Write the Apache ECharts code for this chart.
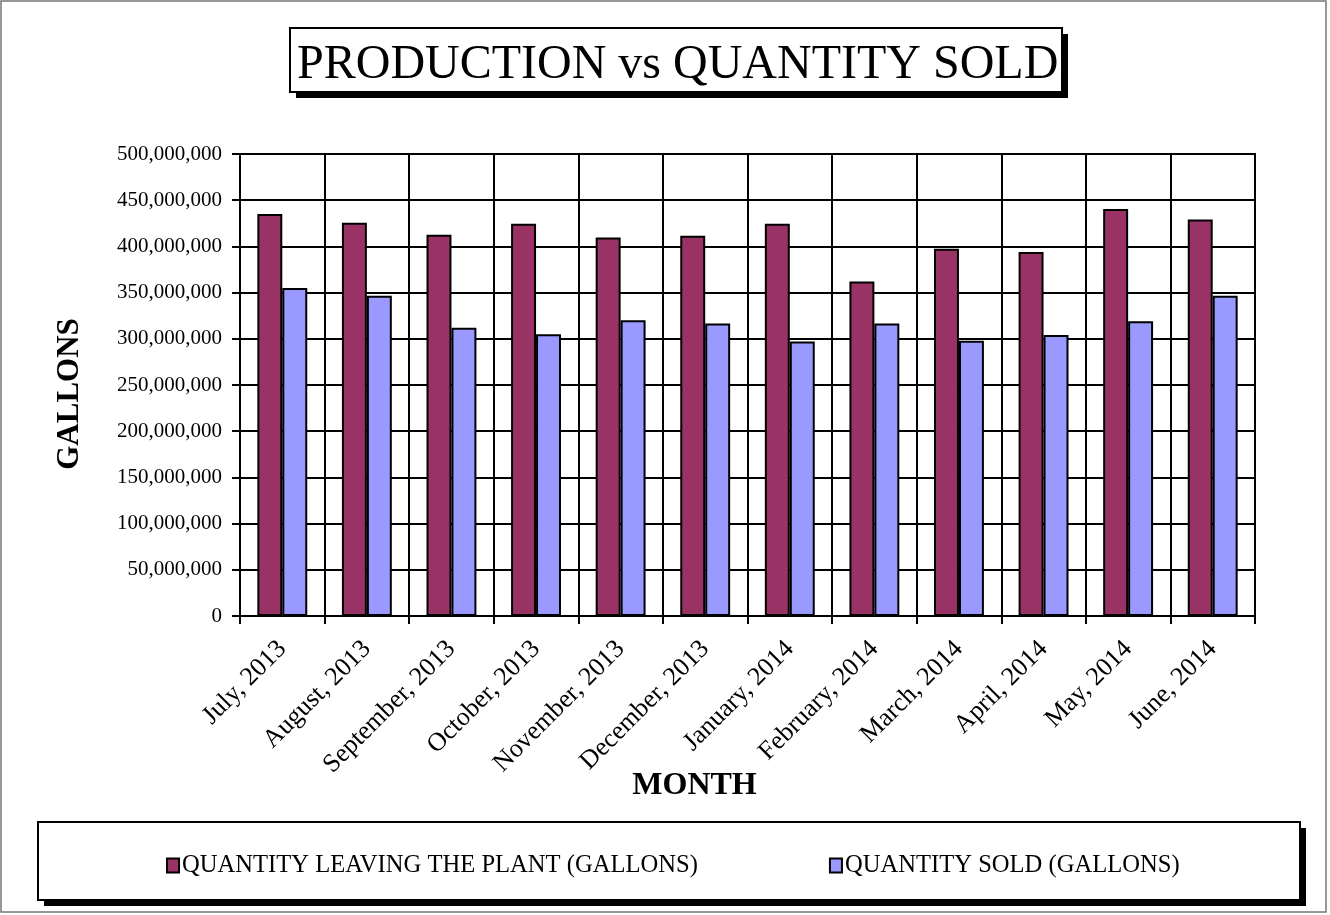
<!DOCTYPE html>
<html>
<head>
<meta charset="utf-8">
<script src="https://cdn.jsdelivr.net/npm/echarts@6/dist/echarts.min.js"></script>
<style>html,body{margin:0;padding:0;background:#fff;}#c{width:1330px;height:915px;}</style>
</head>
<body>
<div id="c"></div>
<script>
const categories = ['July, 2013','August, 2013','September, 2013','October, 2013','November, 2013','December, 2013','January, 2014','February, 2014','March, 2014','April, 2014','May, 2014','June, 2014'];
const leavingPlant = [435000000, 425500000, 412500000, 424500000, 409500000, 411500000, 424500000, 362000000, 397500000, 394000000, 440500000, 429000000];
const quantitySold = [355000000, 346500000, 312000000, 305000000, 320000000, 316500000, 297000000, 316500000, 298000000, 304000000, 319000000, 346500000];
const seriesNames = ['QUANTITY LEAVING THE PLANT (GALLONS)', 'QUANTITY SOLD (GALLONS)'];
const titleText = 'PRODUCTION vs QUANTITY SOLD';

const FONT = '"Liberation Serif", "Times New Roman", serif';
const chart = echarts.init(document.getElementById('c'), null, {renderer: 'canvas'});
function fmt(v){ return String(v).replace(/\B(?=(\d{3})+(?!\d))/g, ','); }

chart.setOption({
  backgroundColor: '#fff',
  animation: false,
  title: {
    text: titleText,
    left: 297, top: 41, padding: 0,
    textStyle: {fontFamily: FONT, fontSize: 48, fontWeight: 'normal', color: '#000'}
  },
  graphic: [
    {type: 'rect', z: 0, shape: {x: 1, y: 1, width: 1325, height: 911}, style: {fill: 'none', stroke: '#777', lineWidth: 1.5}},
    {type: 'rect', z: 1, shape: {x: 296, y: 34, width: 772, height: 64}, style: {fill: '#000'}},
    {type: 'rect', z: 1, shape: {x: 290, y: 28, width: 772, height: 64}, style: {fill: '#fff', stroke: '#000', lineWidth: 2}},
    {type: 'rect', z: 1, shape: {x: 44, y: 828, width: 1262, height: 78}, style: {fill: '#000'}},
    {type: 'rect', z: 1, shape: {x: 38, y: 822, width: 1262, height: 78}, style: {fill: '#fff', stroke: '#000', lineWidth: 2}}
  ],
  legend: {
    data: seriesNames,
    left: 161, top: 848,
    itemGap: 131, itemWidth: 12, itemHeight: 14,
    icon: 'rect',
    textStyle: {fontFamily: FONT, fontSize: 24.6, color: '#000', padding: [0,0,0,-2]}
  },
  grid: {
    left: 240, top: 154, width: 1015, height: 462,
    show: true, borderColor: '#000', borderWidth: 2, backgroundColor: '#fff'
  },
  xAxis: {
    type: 'category',
    data: categories,
    name: 'MONTH', nameLocation: 'middle', nameGap: 154, nameMoveOverlap: false,
    nameTextStyle: {fontFamily: FONT, fontSize: 32, fontWeight: 'bold', color: '#000', padding: [0, 106, 0, 0]},
    axisLine: {lineStyle: {color: '#000', width: 2}},
    axisTick: {show: true, length: 8, lineStyle: {color: '#000', width: 2}, interval: 0},
    splitLine: {show: true, interval: 0, lineStyle: {color: '#000', width: 2}},
    axisLabel: {interval: 0, rotate: 45, margin: 29, fontFamily: FONT, fontSize: 26, color: '#000'}
  },
  yAxis: {
    type: 'value', min: 0, max: 500000000, interval: 50000000,
    name: 'GALLONS', nameLocation: 'middle', nameGap: 155, nameRotate: 90,
    nameTextStyle: {fontFamily: FONT, fontSize: 31, fontWeight: 'bold', color: '#000', padding: [0, 18, 0, 0]},
    axisLine: {show: true, lineStyle: {color: '#000', width: 2}},
    axisTick: {show: true, length: 8, lineStyle: {color: '#000', width: 2}},
    splitLine: {show: true, lineStyle: {color: '#000', width: 2}},
    axisLabel: {margin: 18, fontFamily: FONT, fontSize: 21, color: '#000', formatter: fmt}
  },
  series: [
    {name: seriesNames[0], type: 'bar', data: leavingPlant, barGap: '0%', barCategoryGap: '41%',
     itemStyle: {color: '#993366', borderColor: '#000', borderWidth: 2}},
    {name: seriesNames[1], type: 'bar', data: quantitySold, barGap: '0%', barCategoryGap: '41%',
     itemStyle: {color: '#9999FF', borderColor: '#000', borderWidth: 2}}
  ]
});
</script>
</body>
</html>
